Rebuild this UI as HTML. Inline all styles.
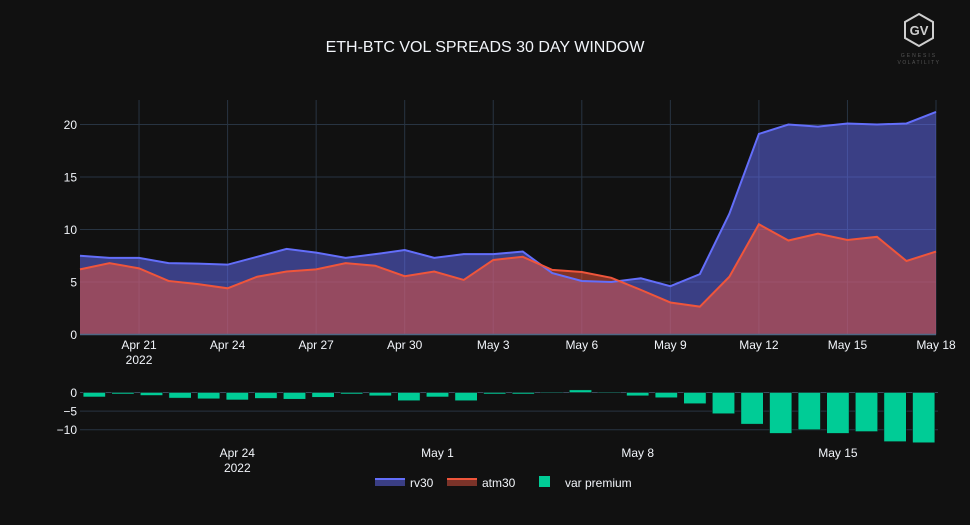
<!DOCTYPE html>
<html><head><meta charset="utf-8">
<style>
html,body{margin:0;padding:0;background:#111111;}
svg{display:block;font-family:"Liberation Sans","DejaVu Sans",sans-serif;}
</style></head>
<body>
<svg id="chart" width="970" height="525" viewBox="0 0 970 525" xmlns="http://www.w3.org/2000/svg">
<rect width="970" height="525" fill="#111111"/>
<text x="485" y="52" text-anchor="middle" fill="#f2f5fa" font-size="16">ETH-BTC VOL SPREADS 30 DAY WINDOW</text>
<g>
<polygon points="919,14 933,22 933,38 919,46 905,38 905,22" fill="none" stroke="#cfcfcf" stroke-width="2"/>
<text x="919" y="35" text-anchor="middle" fill="#cfcfcf" font-size="13" font-weight="bold">GV</text>
<text x="919" y="57" text-anchor="middle" fill="#555" font-size="5" letter-spacing="2">GENESIS</text>
<text x="919" y="64" text-anchor="middle" fill="#555" font-size="5" letter-spacing="1.5">VOLATILITY</text>
</g>
<g id="top-grid"></g>
<g id="top-areas"></g>
<g id="top-axes"></g>
<g id="bot-grid"></g>
<g id="bars"></g>
<g id="bot-axes"></g>
<g>
<g>
<rect x="375" y="478" width="30" height="8" fill="rgb(58,62,132)"/><line x1="375" y1="479" x2="405" y2="479" stroke="#636efa" stroke-width="2"/>
<text x="410" y="487" fill="#f2f5fa" font-size="12">rv30</text></g>
<g>
<rect x="447" y="478" width="30" height="8" fill="#7b3329"/><line x1="447" y1="479" x2="477" y2="479" stroke="#ef553b" stroke-width="2"/>
<text x="482" y="487" fill="#f2f5fa" font-size="12">atm30</text></g>
<g>
<rect x="539" y="476" width="11" height="11" fill="#00cc96"/>
<text x="565" y="487" fill="#f2f5fa" font-size="12">var premium</text></g>
</g>
</svg>
<script>
const dates = ["Apr 19","Apr 20","Apr 21","Apr 22","Apr 23","Apr 24","Apr 25","Apr 26","Apr 27","Apr 28","Apr 29","Apr 30","May 1","May 2","May 3","May 4","May 5","May 6","May 7","May 8","May 9","May 10","May 11","May 12","May 13","May 14","May 15","May 16","May 17","May 18"];
const rv30 = [7.5,7.3,7.3,6.8,6.75,6.65,7.4,8.15,7.8,7.3,7.65,8.05,7.3,7.65,7.65,7.9,5.85,5.1,5.0,5.35,4.6,5.75,11.5,19.1,20.0,19.8,20.1,20.0,20.1,21.2];
const atm30 = [6.2,6.8,6.3,5.1,4.8,4.4,5.5,6.0,6.2,6.8,6.55,5.55,6.0,5.2,7.1,7.4,6.15,5.95,5.4,4.25,3.05,2.65,5.5,10.5,8.95,9.6,9.0,9.3,7.0,7.9];
const varPremium = [-1.2,-0.4,-0.8,-1.5,-1.7,-2.0,-1.6,-1.8,-1.3,-0.4,-0.9,-2.2,-1.2,-2.2,-0.4,-0.4,0.2,0.7,0.2,-0.9,-1.4,-3.0,-5.7,-8.5,-11.0,-10.0,-11.0,-10.5,-13.2,-13.5];
const topYTicks = [0,5,10,15,20];
const topXTickIdx = [2,5,8,11,14,17,20,23,26,29];
const topXTickLabels = ["Apr 21","Apr 24","Apr 27","Apr 30","May 3","May 6","May 9","May 12","May 15","May 18"];
const botYTicks = [0,-5,-10];
const botYTickLabels = ["0","−5","−10"];
const botXTickIdx = [5,12,19,26];
const botXTickLabels = ["Apr 24","May 1","May 8","May 15"];

const NS="http://www.w3.org/2000/svg";
function mk(tag,attrs,parent){const e=document.createElementNS(NS,tag);for(const k in attrs)e.setAttribute(k,attrs[k]);parent.appendChild(e);return e;}
const TL=80,TR=936,TT=100,TB=334.5;
const tx=i=>TL+(TR-TL)*i/(dates.length-1);
const ty=v=>TB-v*10.5;
const BL=80,BR=938;
const bx=i=>BL+(BR-BL)*(i+0.5)/dates.length;
const by=v=>392.5-v*3.72;

const tg=document.getElementById('top-grid');
topXTickIdx.forEach((d,k)=>{const l=mk('line',{x1:tx(d),x2:tx(d),y1:TT,y2:TB,stroke:'#283442','stroke-width':1},tg);

});
topYTicks.forEach(v=>{if(v===0)return;const l=mk('line',{x1:TL,x2:TR,y1:ty(v),y2:ty(v),stroke:'#283442','stroke-width':1},tg);

});

const ta=document.getElementById('top-areas');
function area(vals,fill,op,stroke,name){
 let d='M'+tx(0)+','+TB;vals.forEach((v,i)=>d+=' L'+tx(i)+','+ty(v));d+=' L'+tx(vals.length-1)+','+TB+' Z';
 const a=mk('path',{d:d,fill:fill,'fill-opacity':op},ta);
 
 
 let p='';vals.forEach((v,i)=>p+=(i?' L':'M')+tx(i)+','+ty(v));
 return p;
}
const rvLine=area(rv30,'#636efa',0.5,'#636efa','rv30');
const atmLine=area(atm30,'#ef553b',0.5,'#ef553b','atm30');
const l1=mk('path',{d:rvLine,fill:'none',stroke:'#636efa','stroke-width':2},ta);


const l2=mk('path',{d:atmLine,fill:'none',stroke:'#ef553b','stroke-width':2},ta);



const tax=document.getElementById('top-axes');
const zl=mk('line',{x1:TL,x2:TR,y1:TB,y2:TB,stroke:'#506784','stroke-width':1.5},tax);


topYTicks.forEach(v=>{const t=mk('text',{x:77,y:ty(v)+4.5,'text-anchor':'end',fill:'#f2f5fa','font-size':12},tax);t.textContent=String(v);

});
topXTickIdx.forEach((d,k)=>{const t=mk('text',{x:tx(d),y:349,'text-anchor':'middle',fill:'#f2f5fa','font-size':12},tax);t.textContent=topXTickLabels[k];

});
const yr=mk('text',{x:tx(2),y:364,'text-anchor':'middle',fill:'#f2f5fa','font-size':12},tax);yr.textContent='2022';



const bg=document.getElementById('bot-grid');
botYTicks.forEach(v=>{const l=mk('line',{x1:BL,x2:BR,y1:by(v),y2:by(v),stroke:v===0?'#3a4a5c':'#283442','stroke-width':1},bg);

});
const bars=document.getElementById('bars');
const bw=(BR-BL)/dates.length*0.78;
varPremium.forEach((v,i)=>{const y0=by(0),y1=by(v);
 const r=mk('rect',{x:bx(i)-bw/2,y:Math.min(y0,y1),width:bw,height:Math.max(0.5,Math.abs(y1-y0)),fill:'#00cc96',stroke:'#111','stroke-width':0.5},bars);
 
 });
const bax=document.getElementById('bot-axes');
botYTicks.forEach((v,k)=>{const t=mk('text',{x:77,y:by(v)+4.5,'text-anchor':'end',fill:'#f2f5fa','font-size':12},bax);t.textContent=botYTickLabels[k];

});
botXTickIdx.forEach((d,k)=>{const t=mk('text',{x:bx(d),y:457,'text-anchor':'middle',fill:'#f2f5fa','font-size':12},bax);t.textContent=botXTickLabels[k];

});
const yr2=mk('text',{x:bx(5),y:472,'text-anchor':'middle',fill:'#f2f5fa','font-size':12},bax);yr2.textContent='2022';


</script>
</body></html>
